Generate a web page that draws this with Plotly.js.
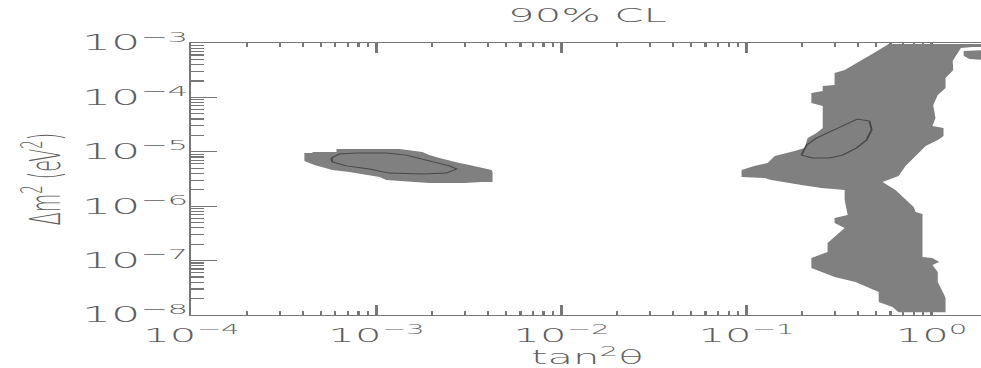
<!DOCTYPE html>
<html>
<head>
<meta charset="utf-8">
<script src="https://cdn.plot.ly/plotly-3.0.1.min.js"></script>
<style>
  html, body { margin: 0; padding: 0; overflow: hidden; background: #fff; width: 981px; height: 368px; }
  #chart { width: 450px; height: 368px; transform: scaleX(2.2); transform-origin: 0 0; }
</style>
</head>
<body>
<div id="chart"></div>
<script>
// ---- data (tan^2 theta, delta m^2 in eV^2) ----
const xTickVals = [1e-4, 1e-3, 1e-2, 1e-1, 1];
const xTickText = ['10<sup>−4</sup>', '10<sup>−3</sup>', '10<sup>−2</sup>', '10<sup>−1</sup>', '10<sup>0</sup>'];
const yTickVals = [1e-8, 1e-7, 1e-6, 1e-5, 1e-4, 1e-3];
const yTickText = ['10<sup>−8</sup>', '10<sup>−7</sup>', '10<sup>−6</sup>', '10<sup>−5</sup>', '10<sup>−4</sup>', '10<sup>−3</sup>'];
const titleText = '90% CL';
const xTitleText = 'tan<sup>2</sup>θ';
const yTitleText = 'Δm<sup>2</sup> (eV<sup>2</sup>)';

// small-mixing-angle allowed region (outer, grey)
const smaRegionX = [4.08e-4, 4.51e-4, 4.51e-4, 6.08e-4, 6.08e-4, 1.33e-3, 1.77e-3, 1.93e-3, 2.19e-3, 2.48e-3, 2.81e-3, 3.18e-3, 3.60e-3, 4.19e-3, 4.24e-3, 4.24e-3, 3.70e-3, 2.99e-3, 1.93e-3, 1.33e-3, 1.13e-3, 1.04e-3, 8.40e-4, 7.14e-4, 5.78e-4, 4.92e-4, 4.62e-4, 4.08e-4];
const smaRegionY = [9.5e-6, 9.5e-6, 9.9e-6, 9.9e-6, 1.125e-5, 1.125e-5, 9.9e-6, 8.7e-6, 7.7e-6, 6.8e-6, 6.2e-6, 5.7e-6, 5.26e-6, 4.62e-6, 4.25e-6, 2.79e-6, 2.79e-6, 2.67e-6, 2.67e-6, 2.90e-6, 3.03e-6, 3.44e-6, 3.91e-6, 4.25e-6, 4.62e-6, 5.26e-6, 5.7e-6, 6.8e-6];
// small-mixing-angle inner contour
const smaContourX = [5.71e-4, 6.31e-4, 7.80e-4, 1.13e-3, 1.45e-3, 1.93e-3, 2.48e-3, 2.71e-3, 2.39e-3, 1.77e-3, 1.17e-3, 9.17e-4, 6.88e-4, 5.78e-4, 5.71e-4];
const smaContourY = [7.7e-6, 9.1e-6, 9.5e-6, 9.5e-6, 8.7e-6, 6.8e-6, 5.5e-6, 4.83e-6, 4.07e-6, 3.91e-6, 4.07e-6, 4.83e-6, 5.5e-6, 6.5e-6, 7.7e-6];

// large-mixing-angle / LOW / vacuum allowed region (outer, grey)
const lmaRegionX = [0.586, 1.91, 1.91, 1.67, 1.44, 1.38, 1.30, 1.31, 1.19, 1.19, 1.08, 1.02, 1.05, 1.01, 1.16, 1.16, 1.08, 0.929, 0.820, 0.723, 0.663, 0.543, 0.638, 0.723, 0.800, 0.820, 0.893, 0.893, 1.01, 1.10, 1.01, 1.08, 1.08, 1.15, 1.19, 1.19, 0.663, 0.615, 0.518, 0.518, 0.388, 0.299, 0.254, 0.224, 0.224, 0.274, 0.274, 0.299, 0.339, 0.299, 0.299, 0.352, 0.339, 0.339, 0.254, 0.198, 0.136, 0.125, 0.094, 0.094, 0.110, 0.130, 0.142, 0.182, 0.206, 0.214, 0.239, 0.258, 0.258, 0.224, 0.224, 0.258, 0.258, 0.299, 0.299, 0.339, 0.408, 0.498];
const lmaRegionY = [9.6e-4, 9.6e-4, 8.4e-4, 8.4e-4, 8.1e-4, 6.5e-4, 4.67e-4, 3.19e-4, 2.27e-4, 1.49e-4, 1.11e-4, 7.2e-5, 4.18e-5, 2.98e-5, 2.74e-5, 1.95e-5, 1.65e-5, 1.28e-5, 8.4e-6, 5.5e-6, 3.59e-6, 2.79e-6, 1.99e-6, 1.30e-6, 9.7e-7, 7.8e-7, 7.2e-7, 1.16e-7, 1.12e-7, 9.4e-8, 8.3e-8, 6.2e-8, 4.05e-8, 2.65e-8, 2.05e-8, 1.12e-8, 1.12e-8, 1.40e-8, 1.73e-8, 2.65e-8, 4.05e-8, 5.0e-8, 6.2e-8, 7.3e-8, 1.12e-7, 1.44e-7, 2.11e-7, 2.71e-7, 3.97e-7, 4.91e-7, 6.07e-7, 6.9e-7, 1.30e-6, 1.99e-6, 2.16e-6, 2.45e-6, 3.03e-6, 3.30e-6, 3.44e-6, 4.62e-6, 5.5e-6, 6.2e-6, 8.4e-6, 1.035e-5, 1.17e-5, 1.79e-5, 2.22e-5, 2.74e-5, 6.95e-5, 7.9e-5, 1.21e-4, 1.31e-4, 1.62e-4, 1.69e-4, 2.81e-4, 3.19e-4, 4.67e-4, 6.8e-4];
// small detached patch at the upper right
const patchX = [1.49, 1.91, 1.91, 1.60, 1.49];
const patchY = [7.1e-4, 7.4e-4, 4.9e-4, 5.1e-4, 5.8e-4];
// large-mixing-angle inner contour
const lmaContourX = [0.198, 0.211, 0.239, 0.281, 0.330, 0.398, 0.462, 0.474, 0.445, 0.393, 0.330, 0.281, 0.227, 0.198];
const lmaContourY = [8.7e-6, 1.33e-5, 1.79e-5, 2.31e-5, 3.11e-5, 4.01e-5, 3.68e-5, 2.52e-5, 1.65e-5, 1.17e-5, 8.7e-6, 7.7e-6, 7.7e-6, 8.7e-6];

// ---- drawing ----
const S = 2.2;               // horizontal stretch applied by CSS
const W = 450;               // plotly width before stretch
const ML = 192 / S, MR = W - 984 / S;
const FILL = '#808080';
const LINE = '#484848';
const TXT = '#5e5e5e';
const AX = '#777777';
const FONT = 'DejaVu Sans';

function region(x, y) {
  return { x: x, y: y, type: 'scatter', mode: 'lines', fill: 'toself',
           fillcolor: FILL, line: { width: 0, color: FILL }, hoverinfo: 'skip' };
}
function contour(x, y) {
  return { x: x, y: y, type: 'scatter', mode: 'lines',
           line: { width: 0.9, color: LINE }, hoverinfo: 'skip' };
}

const traces = [
  region(smaRegionX, smaRegionY),
  region(lmaRegionX, lmaRegionY),
  region(patchX, patchY),
  contour(smaContourX, smaContourY),
  contour(lmaContourX, lmaContourY)
];

function f(size) { return { size: size, color: TXT, family: FONT, weight: 200 }; }

const layout = {
  width: W, height: 368,
  margin: { l: ML, r: MR, t: 43, b: 53, pad: 0 },
  paper_bgcolor: '#ffffff', plot_bgcolor: '#ffffff',
  showlegend: false,
  font: { family: FONT, color: TXT },
  title: { text: titleText, font: f(19),
           x: 0.5, xref: 'paper', xanchor: 'center', y: 1 - 15.5 / 368, yref: 'container', yanchor: 'middle' },
  xaxis: {
    type: 'log', range: [-4, 0.28], tickmode: 'array', tickvals: xTickVals, ticktext: xTickText,
    ticks: 'inside', ticklen: 10, tickwidth: 1.1, tickcolor: AX, ticklabelstandoff: 3,
    showline: true, linecolor: AX, linewidth: 1.3, mirror: 'ticks',
    showgrid: false, zeroline: false, layer: 'below traces', automargin: false,
    tickfont: f(19),
    minor: { dtick: 'D1', ticks: 'inside', ticklen: 4, tickwidth: 1, tickcolor: AX, showgrid: false },
    title: { text: xTitleText, font: f(19), standoff: 3 }
  },
  yaxis: {
    type: 'log', range: [-8, -3], tickmode: 'array', tickvals: yTickVals, ticktext: yTickText,
    ticks: 'inside', ticklen: 26 / S, tickwidth: 1.2, tickcolor: AX, ticklabelstandoff: -4,
    showline: true, linecolor: AX, linewidth: 1.3, mirror: false,
    showgrid: false, zeroline: false, layer: 'below traces', automargin: false,
    tickfont: f(21),
    minor: { dtick: 'D1', ticks: 'inside', ticklen: 13 / S, tickwidth: 1.2, tickcolor: AX, showgrid: false },
    title: { text: yTitleText, font: f(19), standoff: 4 }
  },
  yaxis2: {
    type: 'log', range: [-8, -3], overlaying: 'y', side: 'right', tickmode: 'array', tickvals: yTickVals,
    showticklabels: false, ticks: 'inside', ticklen: 18 / S, tickwidth: 1.2, tickcolor: AX,
    showline: true, linecolor: AX, linewidth: 1.3,
    showgrid: false, zeroline: false, layer: 'below traces', automargin: false,
    minor: { dtick: 'D1', ticks: 'inside', ticklen: 10 / S, tickwidth: 1.2, tickcolor: AX, showgrid: false }
  }
};

Plotly.newPlot('chart', traces, layout, { displayModeBar: false, staticPlot: true, responsive: false });
</script>
</body>
</html>
